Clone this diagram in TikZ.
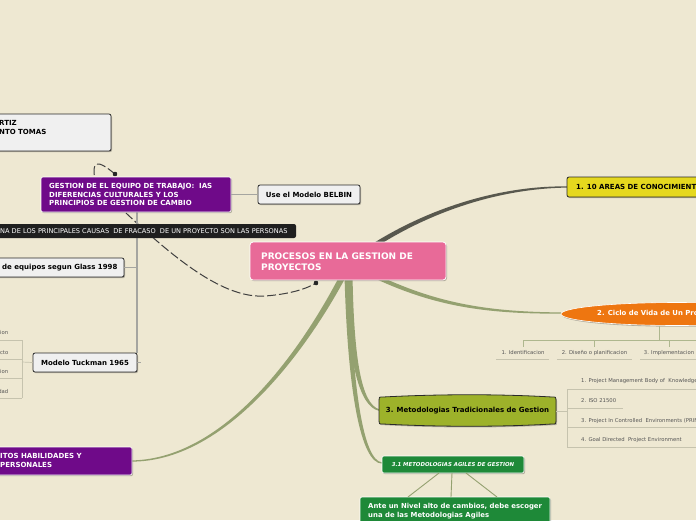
\documentclass[tikz,border=0pt]{standalone}
\usepackage{fontspec}
\setmainfont{DejaVu Sans}
\usetikzlibrary{fit,shapes.geometric}
\definecolor{bg}{HTML}{EEE8D2}
\definecolor{rootpink}{HTML}{E86A98}
\definecolor{purp}{HTML}{6F0A89}
\definecolor{yel}{HTML}{E5D81E}
\definecolor{orng}{HTML}{EE7610}
\definecolor{oliv}{HTML}{9DB22A}
\definecolor{grn}{HTML}{1E8938}
\definecolor{lightbox}{HTML}{F0F0F0}
\definecolor{darkedge}{HTML}{2A2A2A}
\definecolor{sage}{HTML}{94A170}
\definecolor{darkbranch}{HTML}{58584E}
\definecolor{subline}{HTML}{C6C3AE}
\definecolor{subtext}{HTML}{555555}
\definecolor{ciclol}{HTML}{AEB78E}
\definecolor{gline}{HTML}{A5A5A0}
\tikzset{
  shadowed/.style={preaction={fill=black,opacity=0.25,transform canvas={xshift=1pt,yshift=-1.2pt}}},
  lbox/.style={draw=darkedge,fill=lightbox,rounded corners=2pt,line width=0.8pt,inner sep=0,shadowed},
  pbox/.style={draw=white,fill=purp,rounded corners=2pt,line width=0.6pt,inner sep=0,shadowed},
  gbox/.style={draw=white,fill=grn,rounded corners=2pt,line width=0.6pt,inner sep=0,shadowed},
  txt/.style={inner sep=0,font=\bfseries\fontsize{7}{8.5}\selectfont,align=left},
  subtxt/.style={inner sep=0,font=\fontsize{5.3}{6}\selectfont,text=subtext},
  gconn/.style={draw=gline,line width=0.8pt},
  thickg/.style={draw=gline,line width=2pt},
  subl/.style={draw=subline,line width=0.7pt},
  cicl/.style={draw=ciclol,line width=0.8pt},
  dot/.style={circle,fill=black!85,inner sep=0,minimum size=4.4pt},
  rel/.style={draw=black!75,line width=1pt,dash pattern=on 9pt off 3pt}
}
\begin{document}
\begin{tikzpicture}[x=1pt,y=-1pt]
\useasboundingbox (0,0) rectangle (696,520);
\fill[bg] (0,0) rectangle (696,520);

% main branches (tapered)
\fill[darkbranch] (351.5,264) .. controls (421.2,211.6) and (500,188.5) .. (567,187.6) -- (567,186.4) .. controls (500,185.5) and (418.8,208.4) .. (348.5,260) -- cycle;
\fill[sage] (351.1,266.8) .. controls (419,302) and (470,314.2) .. (561,313.6) -- (561,312.4) .. controls (470,311.8) and (421,298) .. (352.9,263.2) -- cycle;
\fill[sage] (345.5,275) .. controls (348,360) and (358.5,406.5) .. (379,410.8) -- (379,409.2) .. controls (361.5,403.5) and (354,360) .. (352.5,275) -- cycle;
\fill[sage] (344.5,275) .. controls (347.5,390) and (360.5,463.5) .. (382,463.6) -- (382,462.4) .. controls (363.5,460.5) and (352.5,390) .. (349.5,275) -- cycle;
\fill[sage] (347.7,273.4) .. controls (312.2,341.1) and (230,461.5) .. (132,461.6) -- (132,460.4) .. controls (230,458.5) and (307.8,338.9) .. (342.3,270.6) -- cycle;

% relationship curve
\node[dot] (d1) at (115,174) {};
\node[dot] (d2) at (316,283) {};
\draw[rel] (d1.center) .. controls (98,160) and (90,158) .. (96,185) .. controls (140,225) and (210,300) .. (265,296) .. controls (292,294) and (308,288) .. (d2.center);

% gray connectors of the left group
\coordinate (v1) at (136.5,212);
\node[lbox, fit={(33,353) (137,372)}] (tuck) {};
\node[lbox, fit={(-12,258) (124,277)}] (glass) {};
\draw[thickg] (v1) -- (v1 |- tuck.north);
\draw[gconn] (glass.east) -- (glass.east -| v1);
\draw[gconn] (tuck.east) -- ++(4,0) coordinate (tstub);

% Tuckman sub-items
\coordinate (tb) at (22,362);
\draw[subl] (tuck.west) -- (tb);
\draw[subl] (22,340) -- (22,398);
\foreach \yy in {340,359,378,398} \draw[subl] (-2,\yy) -- (22,\yy);
\node[subtxt,anchor=east] (ta) at (8.5,333) {ion};
\node[subtxt,anchor=east] (tbb) at (8.5,353) {cto};
\node[subtxt,anchor=east] (tc) at (8.5,372) {ion};
\node[subtxt,anchor=east] (td) at (8.5,392) {dad};

% boxes
\node[lbox, fit={(-12,114) (111,151)}] (tl) {};
\node[txt,anchor=west] (tlT) at (-1,127.5) {RTIZ\\NTO TOMAS};

\node[pbox, fit={(41,177) (231,212)}] (gest) {};
\node[txt,anchor=west,text=white] (gestT) at (49,194.5) {GESTION DE EL EQUIPO DE TRABAJO:\ \ IAS\\DIFERENCIAS CULTURALES Y LOS\\PRINCIPIOS DE GESTION DE CAMBIO};
\node[dot] (d1b) at (115,174) {};

\node[lbox, fit={(258,185) (360,204)}] (belbin) {};
\node[txt] (belbinT) at (belbin.center) {Use el Modelo BELBIN};
\draw[gconn] (gest.east) -- (belbin.west);

\node[fill=black!88,rounded corners=2pt,inner sep=0,fit={(-12,224) (296,238)}] (bar) {};
\node[inner sep=0,text=white,anchor=west,font=\fontsize{6.6}{7}\selectfont] (barT) at (0,231) {NA DE LOS PRINCIPALES CAUSAS\ \ DE FRACASO\ \ DE UN PROYECTO SON LAS PERSONAS};

\node[txt,anchor=west] (glassT) at (2,267.5) {de equipos segun Glass 1998};
\node[txt] (tuckT) at (tuck.center) {Modelo Tuckman 1965};

% root
\node[draw=white,fill=rootpink,rounded corners=3pt,line width=0.8pt,inner sep=0,shadowed,fit={(250,242) (446,280)}] (root) {};
\node[txt,anchor=west,text=white,font=\bfseries\fontsize{9}{11}\selectfont] (rootT) at (261,261.5) {PROCESOS EN LA GESTION DE\\PROYECTOS};
\node[dot] (d2b) at (316,283) {};

% yellow
\node[draw=darkedge,fill=yel,rounded corners=2pt,line width=0.8pt,inner sep=0,shadowed,fit={(567,177) (710,197)}] (areas) {};
\node[txt,anchor=west] (areasT) at (576,187) {1. 10 AREAS DE CONOCIMIENTO};

% orange ellipse
\node[ellipse,draw=white,fill=orng,line width=0.6pt,minimum width=232pt,minimum height=23pt,inner sep=0,shadowed] (ciclo) at (677,314) {};
\node[txt,anchor=west,text=white,font=\bfseries\fontsize{6.9}{8.5}\selectfont] (cicloT) at (597,313.5) {2. Ciclo de Vida de Un Proyecto};
\coordinate (cb) at (659,340);
\draw[cicl] (ciclo.south -| cb) -- (cb);
\draw[cicl] (523,340) -- (700,340);
\foreach \xx in {523,594,669} \draw[cicl] (\xx,340) -- (\xx,347);
\node[subtxt] (c1) at (523,353) {1. Identificacion};
\node[subtxt] (c2) at (594.5,353) {2. Diseño o planificacion};
\node[subtxt] (c3) at (669,353) {3. Implementacion};
\draw[subl] (496,359) -- (549,359);
\draw[subl] (557,359) -- (632,359);
\draw[subl] (640,359) -- (700,359);

% olive box
\draw[draw=darkedge,fill=oliv,line width=0.8pt,shadowed] (379,400) .. controls (379,397) .. (383,397) .. controls (440,394) and (500,394) .. (552,397) .. controls (556,397) .. (556,400) -- (556,421) .. controls (556,424) .. (552,424) .. controls (500,427) and (440,427) .. (383,424) .. controls (379,424) .. (379,421) -- cycle;
\node[txt] (metT) at (467.5,411) {3. Metodologias Tradicionales de Gestion};
\coordinate (ob) at (567,411);
\draw[subl] (556,411) -- (ob);
\draw[subl] (567,389) -- (567,447);
\draw[subl] (567,389) -- (700,389);
\draw[subl] (567,408) -- (623,408);
\draw[subl] (567,427) -- (700,427);
\draw[subl] (567,447) -- (700,447);
\node[subtxt,anchor=west] (m1) at (581,381) {1. Project Management Body of\ \ Knowledge};
\node[subtxt,anchor=west] (m2) at (581,401) {2. ISO 21500};
\node[subtxt,anchor=west] (m3) at (581,421) {3. Project In Controlled\ \ Environments (PRINCE2)};
\node[subtxt,anchor=west] (m4) at (581,440) {4. Goal Directed\ \ Project Environment};

% agile
\node[gbox, fit={(382,456) (524,473)}] (agil) {};
\node[inner sep=0,text=white,font=\bfseries\itshape\fontsize{5.4}{6}\selectfont] (agilT) at (agil.center) {3.1 METODOLOGIAS AGILES DE GESTION};
\node[gbox, fit={(360,497) (550,530)}] (ante) {};
\node[txt,anchor=west,text=white,font=\bfseries\fontsize{6.9}{9}\selectfont] (anteT) at (368,511.5) {Ante un Nivel alto de cambios, debe escoger\\una de las Metodologias Agiles};
\draw[draw=sage,line width=0.9pt] (439,473) -- (408,497);
\draw[draw=sage,line width=0.9pt] (452,473) -- (451,497);
\draw[draw=sage,line width=0.9pt] (466,473) -- (497,497);

% bottom purple
\node[pbox, fit={(-12,447) (132,475)}] (habil) {};
\node[txt,anchor=west,text=white] (habilT) at (0,460.5) {ITOS HABILIDADES Y\\PERSONALES};
\end{tikzpicture}
\end{document}
